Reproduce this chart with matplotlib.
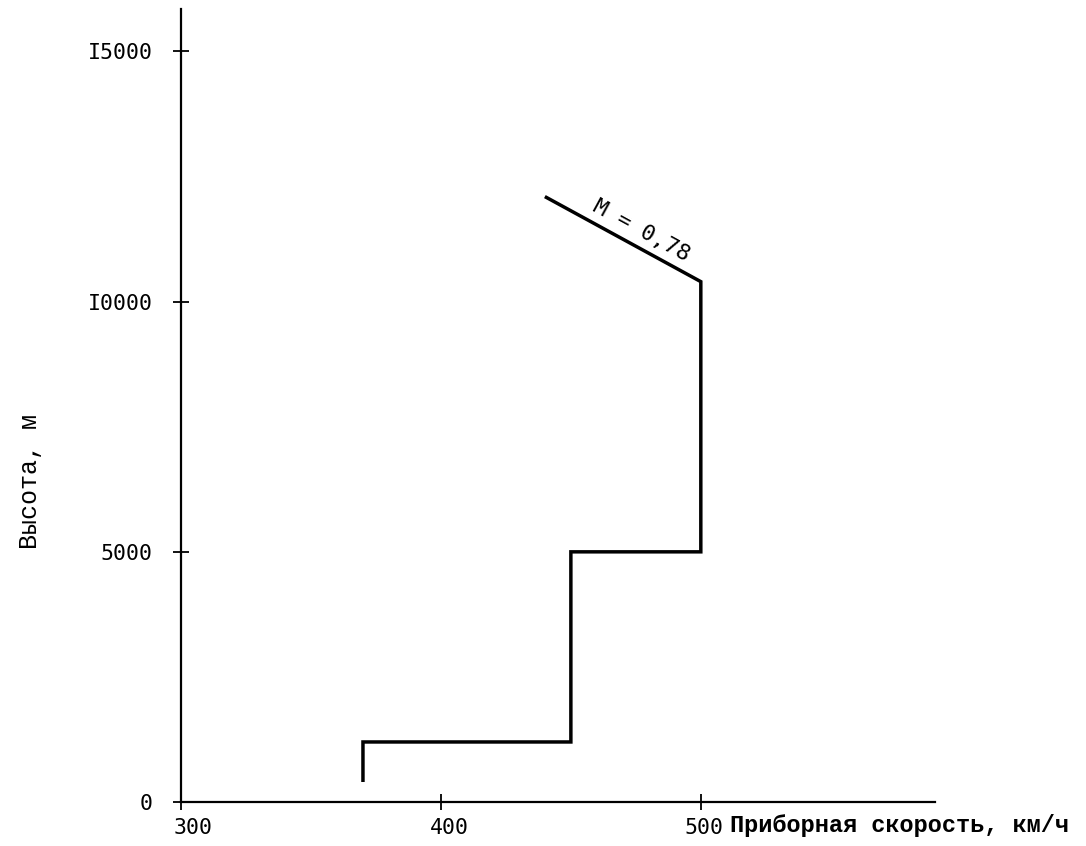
import math
import matplotlib
matplotlib.use("Agg")
import matplotlib.pyplot as plt
from matplotlib.transforms import ScaledTranslation

# Speed schedule: indicated airspeed (km/h) versus altitude (m)
speed_kmh = [370, 370, 450, 450, 500, 500, 440]
altitude_m = [400, 1200, 1200, 5000, 5000, 10400, 12100]

x_ticks = [300, 400, 500]
x_tick_labels = ["300", "400", "500"]
y_ticks = [0, 5000, 10000, 15000]
y_tick_labels = ["0", "5000", "I0000", "I5000"]

mach_label = "M = 0,78"
x_label = "Приборная скорость, км/ч"
y_label = "Высота, м"

fig = plt.figure(figsize=(10.86, 8.46), dpi=100)
ax = fig.add_axes([0.1667, 0.052, 0.694, 0.9374])

ax.plot(speed_kmh, altitude_m, color="black", linewidth=2.5,
        solid_joinstyle="miter", solid_capstyle="butt")

ax.set_xlim(300, 590)
ax.set_ylim(0, 15850)

for side in ("top", "right"):
    ax.spines[side].set_visible(False)
for side in ("left", "bottom"):
    ax.spines[side].set_linewidth(1.6)
    ax.spines[side].set_color("black")

tick_font = {"family": "DejaVu Sans Mono", "size": 15.5}
ax.set_xticks(x_ticks)
ax.set_xticklabels(x_tick_labels, fontdict=tick_font)
ax.set_yticks(y_ticks)
ax.set_yticklabels(y_tick_labels, fontdict=tick_font)
ax.tick_params(axis="x", direction="inout", length=11, width=1.3, pad=6)
ax.tick_params(axis="y", direction="inout", length=11, width=1.3, pad=15)

# typewritten labels sit a little to the right of their ticks
shifts = [9, 6, 2]
for lab, dx in zip(ax.get_xticklabels(), shifts):
    lab.set_transform(lab.get_transform() + ScaledTranslation(dx / 72, 0, fig.dpi_scale_trans))

# axis titles
ax.annotate(x_label, xy=(500, 0), xycoords="data",
            xytext=(21, -17), textcoords="offset points",
            ha="left", va="center", family="Liberation Mono",
            fontweight="bold", fontsize=17)
fig.text(0.028, 0.431, y_label, rotation=90, ha="center", va="center",
         family="Liberation Mono", fontsize=18)

# Mach-number label along the upper segment
fig.canvas.draw()
p0 = ax.transData.transform((speed_kmh[-1], altitude_m[-1]))
p1 = ax.transData.transform((speed_kmh[-2], altitude_m[-2]))
angle = math.degrees(math.atan2(p1[1] - p0[1], p1[0] - p0[0]))
ax.text(477, 11420, mach_label, rotation=angle, rotation_mode="anchor",
        ha="center", va="center", family="DejaVu Sans Mono", fontsize=16)

fig.savefig("out.png", dpi=100, facecolor="white")
